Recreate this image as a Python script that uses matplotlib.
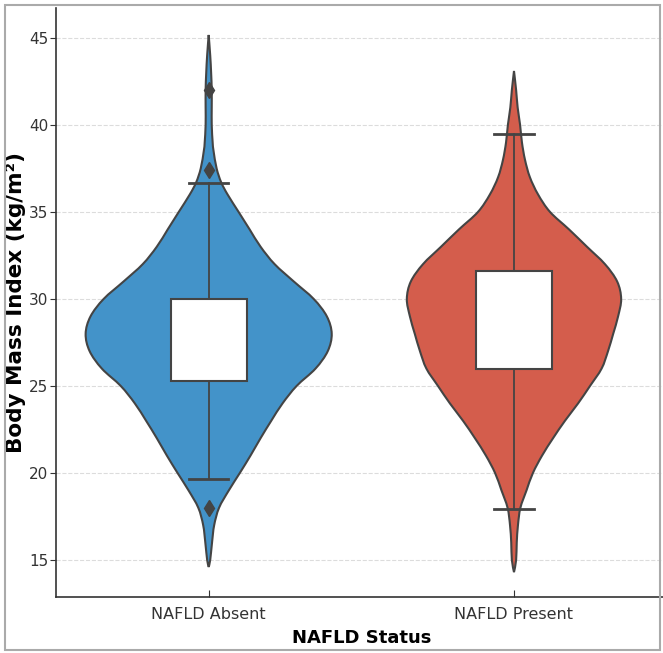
import matplotlib
matplotlib.use("Agg")
import matplotlib.pyplot as plt
from matplotlib.patches import Rectangle, PathPatch
from matplotlib.path import Path
import numpy as np

# categories and box stats
groups = ["NAFLD Absent", "NAFLD Present"]
colors = ["#4393C9", "#D45D4C"]

q1 = [25.3, 25.96]
q3 = [30.0, 31.63]
whis_lo = [19.66, 17.91]
whis_hi = [36.68, 39.48]
outliers = [[42.0, 37.4, 18.0], []]

# violin outlines: BMI level -> half width (category axis units)
absent_bmi = [45.17, 44, 43, 42, 41, 40, 39, 38.5, 37.5, 36.7, 36, 35, 34, 33, 32, 31,
              30, 29, 28, 27, 26, 25, 24, 23, 22, 21, 20, 19, 18, 17, 16, 15, 14.6]
absent_w = [0, .005, .008, .010, .010, .010, .013, .016, .026, .041, .062, .098, .134,
            .170, .216, .279, .344, .387, .403, .390, .350, .288, .242, .205, .170,
            .137, .102, .066, .034, .018, .011, .005, 0]

present_bmi = [43.1, 42, 41, 40, 39, 38, 37, 36, 35, 34, 33, 32, 31, 30, 29, 28, 27,
               26, 25, 24, 23, 22, 21, 20, 19, 18, 17, 16, 15, 14.3]
present_w = [0, .007, .012, .020, .026, .036, .052, .079, .118, .180, .239, .298, .338,
             .351, .341, .325, .308, .287, .249, .210, .167, .128, .092, .062, .041,
             .021, .013, .009, .007, 0]

violins = [(absent_bmi, absent_w), (present_bmi, present_w)]


def smooth_side(pts):
    # bezier segments through the read points (catmull-rom style handles)
    verts = []
    codes = []
    n = len(pts)
    for i in range(n - 1):
        p0 = pts[max(i - 1, 0)]
        p1 = pts[i]
        p2 = pts[i + 1]
        p3 = pts[min(i + 2, n - 1)]
        c1 = p1 + (p2 - p0) / 6.0
        c2 = p2 - (p3 - p1) / 6.0
        verts += [tuple(c1), tuple(c2), tuple(p2)]
        codes += [Path.CURVE4] * 3
    return verts, codes


def violin_path(center, yv, wv):
    yv = np.array(yv, dtype=float)
    wv = np.array(wv, dtype=float)
    right = np.column_stack([center + wv, yv])
    left = np.column_stack([center - wv, yv])[::-1]
    verts = [tuple(right[0])]
    codes = [Path.MOVETO]
    v, c = smooth_side(right)
    verts += v
    codes += c
    v, c = smooth_side(left)
    verts += v
    codes += c
    verts.append(tuple(right[0]))
    codes.append(Path.CLOSEPOLY)
    return Path(verts, codes)


fig = plt.figure(figsize=(6.63, 6.53), dpi=100)
ax = fig.add_axes([0.0845, 0.085, 0.921, 0.9028])

edge = "#444444"
for i, (yv, wv) in enumerate(violins):
    ax.add_patch(PathPatch(violin_path(i, yv, wv), facecolor=colors[i], edgecolor=edge,
                           linewidth=1.5, zorder=2))

stats = []
for i in range(len(groups)):
    stats.append({
        "med": (q1[i] + q3[i]) / 2,
        "q1": q1[i],
        "q3": q3[i],
        "whislo": whis_lo[i],
        "whishi": whis_hi[i],
        "fliers": outliers[i],
    })

ax.bxp(stats, positions=[0, 1], widths=0.25, capwidths=0.128, patch_artist=True,
       boxprops=dict(facecolor="white", edgecolor=edge, linewidth=1.5),
       whiskerprops=dict(color=edge, linewidth=1.3),
       capprops=dict(color=edge, linewidth=2.0),
       medianprops=dict(linewidth=0),
       flierprops=dict(marker="d", markerfacecolor=edge, markeredgecolor=edge,
                       markersize=8),
       manage_ticks=False, zorder=3)

ax.set_xlim(-0.5, 1.5)
ax.set_ylim(12.845, 46.72)
ax.set_xticks([0, 1])
ax.set_xticklabels(groups)
ax.set_yticks([15, 20, 25, 30, 35, 40, 45])

ax.yaxis.grid(True, linestyle="--", color="#dcdcdc", linewidth=0.8, zorder=0)
ax.set_axisbelow(True)
for s in ["top", "right"]:
    ax.spines[s].set_visible(False)
for s in ["left", "bottom"]:
    ax.spines[s].set_color("#333333")
    ax.spines[s].set_linewidth(1.2)

ax.tick_params(axis="y", labelsize=11, colors="#333333", length=4, pad=1.5)
ax.tick_params(axis="x", labelsize=11.5, colors="#333333", direction="in", length=5, pad=7)

ax.set_ylabel("Body Mass Index (kg/m²)", fontsize=15.5, fontweight="bold", labelpad=2)
ax.set_xlabel("NAFLD Status", fontsize=13, fontweight="bold", labelpad=5)

# grey frame around the picture
fig.patches.append(Rectangle((5 / 663, 3 / 653), 655 / 663, 645 / 653, transform=fig.transFigure,
                             fill=False, edgecolor="#aaaaaa", linewidth=1.5))

fig.savefig("out.png", dpi=100)
